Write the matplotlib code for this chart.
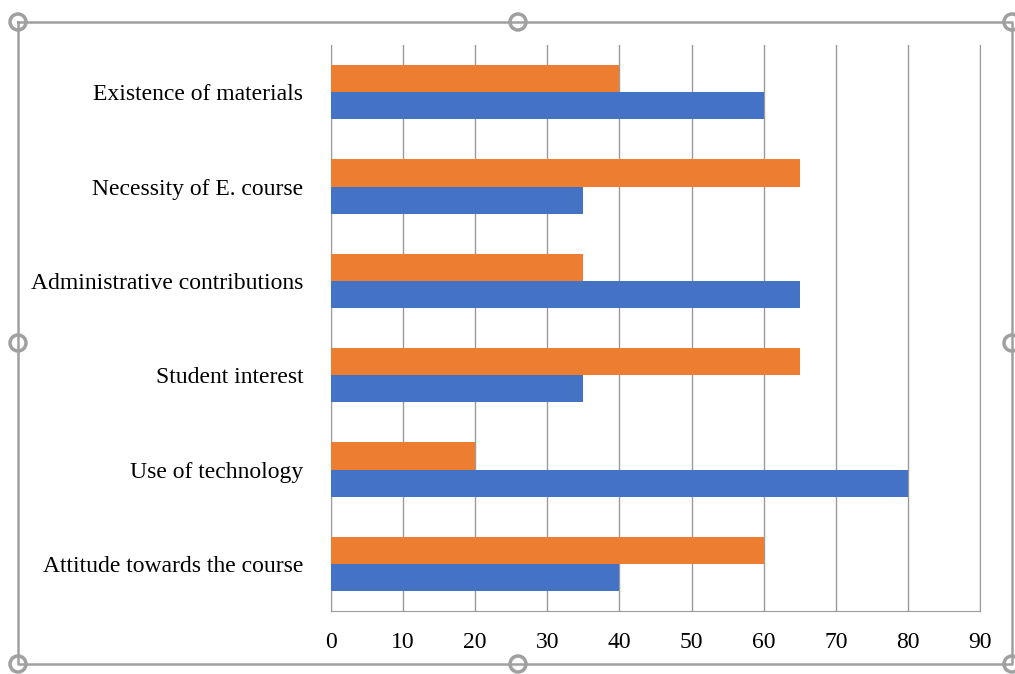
import matplotlib.pyplot as plt
import numpy as np
from matplotlib.lines import Line2D
from matplotlib.patches import Circle

# data (bottom to top)
categories = ["Attitude towards the course", "Use of technology", "Student interest",
              "Administrative contributions", "Necessity of E. course", "Existence of materials"]
blue_vals = [40, 80, 35, 65, 35, 60]
orange_vals = [60, 20, 65, 35, 65, 40]
x_ticks = [0, 10, 20, 30, 40, 50, 60, 70, 80, 90]

plt.rcParams['font.family'] = ['Liberation Serif', 'DejaVu Serif']

fig = plt.figure(figsize=(10.15, 6.74), dpi=100)
W, H = 1015, 674
ax = fig.add_axes([331 / W, 1 - 611 / H, (980 - 331) / W, (611 - 45) / H])

y = np.arange(len(categories))
h = 0.287
ax.barh(y - h / 2, blue_vals, height=h, color="#4472C4", zorder=3)
ax.barh(y + h / 2, orange_vals, height=h, color="#ED7D31", zorder=3)

ax.set_xlim(0, 90)
ax.set_ylim(-0.5, len(categories) - 0.5)
ax.set_xticks(x_ticks)
ax.set_yticks(y)
ax.set_yticklabels(categories)
ax.grid(axis="x", color="#9a9a9a", linewidth=1, zorder=0)
ax.spines["top"].set_visible(False)
for s in ["left", "bottom", "right"]:
    ax.spines[s].set_color("#9a9a9a")
ax.tick_params(axis="x", length=0, pad=15, labelsize=17, colors="black")
ax.tick_params(axis="y", length=0, pad=20, labelsize=17, colors="black")

# selection frame overlay
ov = fig.add_axes([0, 0, 1, 1], zorder=10)
ov.set_xlim(0, W)
ov.set_ylim(H, 0)
ov.axis("off")
gray = "#a0a0a0"
left, right, top, bottom = 18, 1012, 22, 664
ov.add_line(Line2D([left, right, right, left, left], [top, top, bottom, bottom, top],
                   color=gray, linewidth=1.8))
for cx, cy in [(left, top), (518, top), (right, top), (left, 343), (right, 343),
               (left, bottom), (518, bottom), (right, bottom)]:
    ov.add_patch(Circle((cx, cy), 8, facecolor="white", edgecolor=gray, linewidth=2.5))

fig.savefig("out.png", dpi=100)
